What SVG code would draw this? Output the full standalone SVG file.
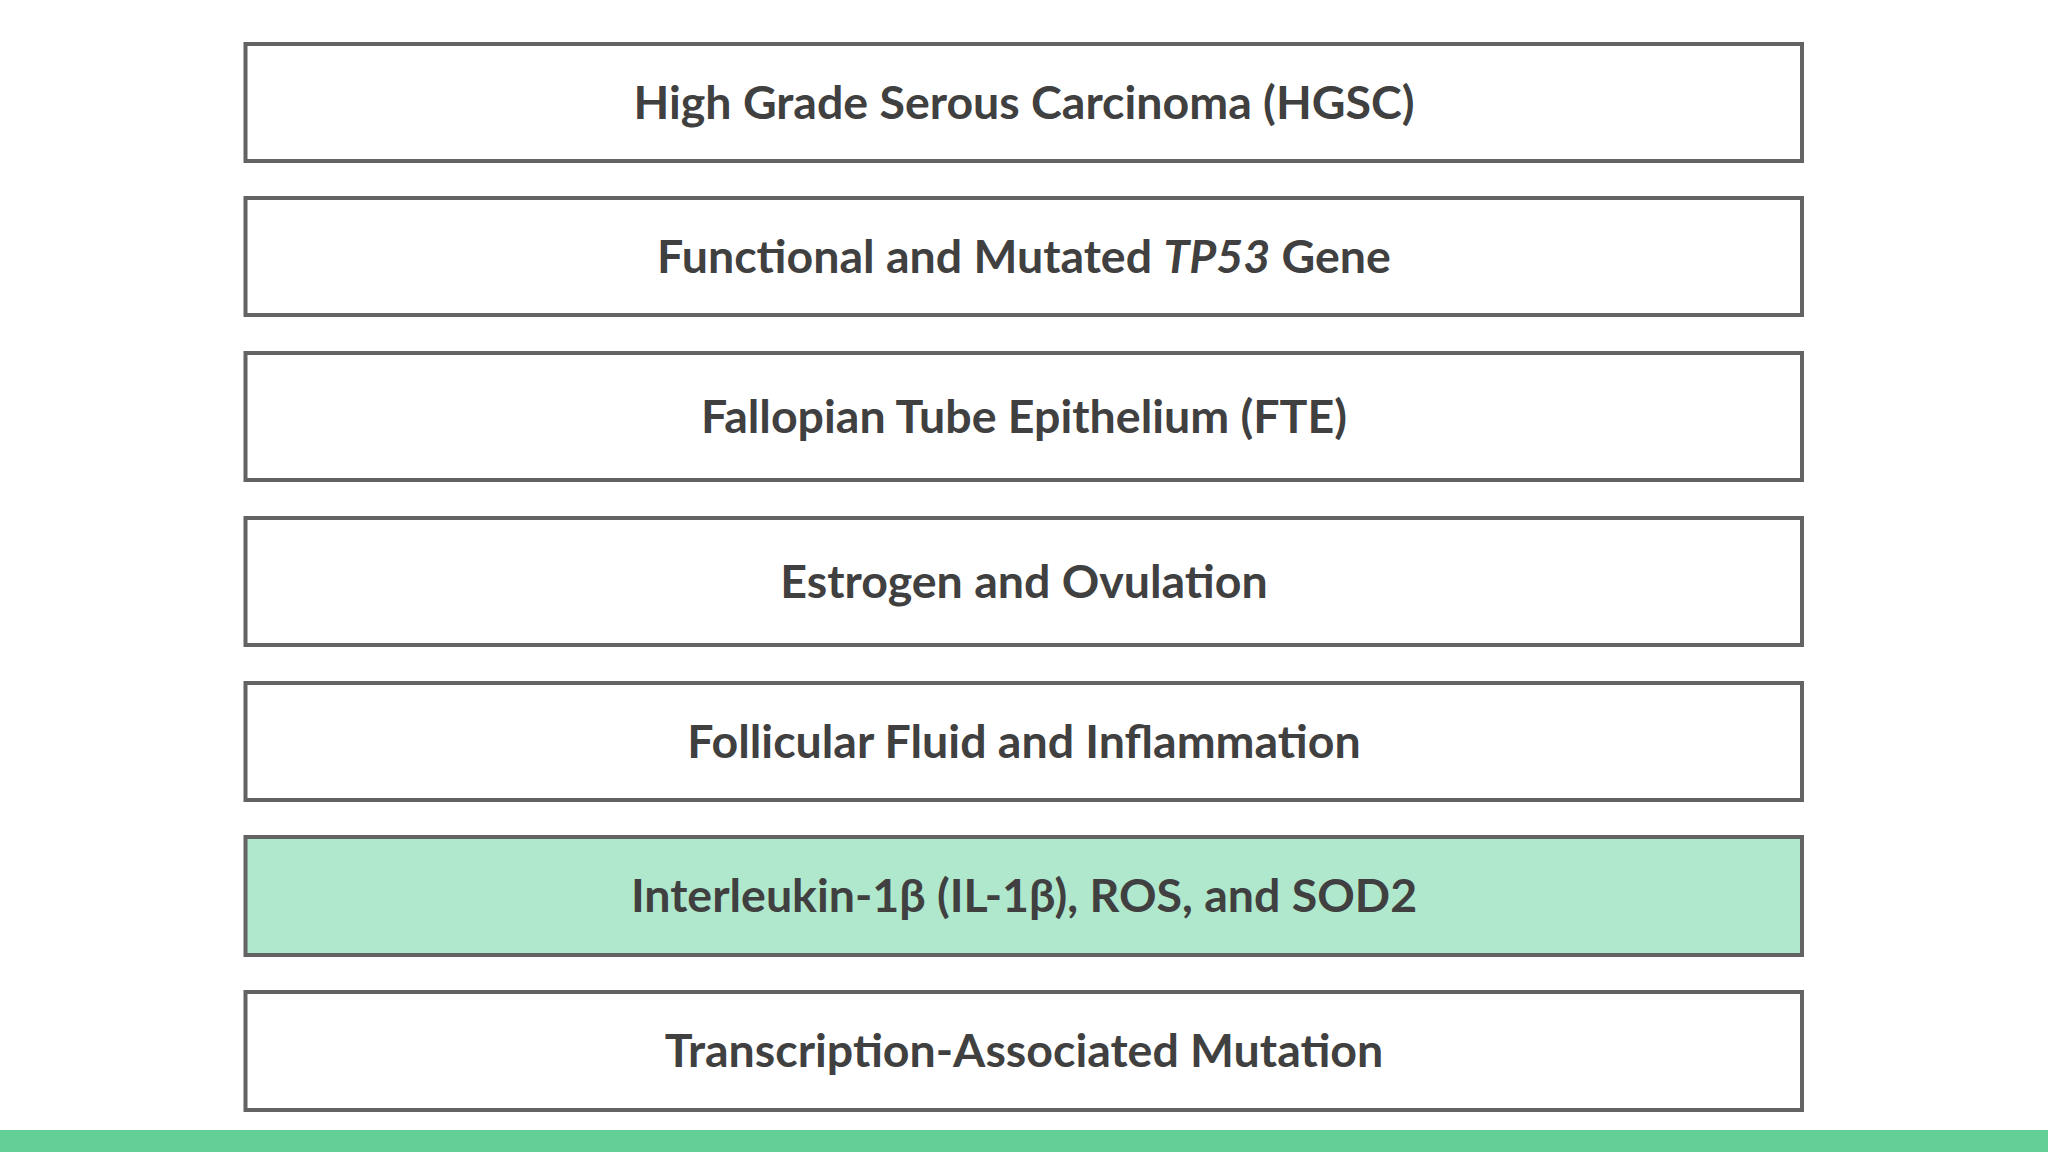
<svg xmlns="http://www.w3.org/2000/svg" width="2048" height="1152" viewBox="0 0 2048 1152">
<style>
.box{fill:#ffffff;stroke:#636363;stroke-width:4}
.hl{fill:#b0e8cd}
.lbl{font-family:Lato,"Open Sans",sans-serif;font-weight:700;font-size:46.5px;fill:#404040;text-anchor:middle}
</style>
<rect width="2048" height="1152" fill="#ffffff"/>
<g id="n1"><rect class="box" x="245.5" y="44" width="1556.5" height="117"/><text class="lbl" x="1024" y="119">High Grade Serous Carcinoma (HGSC)</text></g>
<g id="n2"><rect class="box" x="245.5" y="198" width="1556.5" height="117"/><text class="lbl" x="1024" y="273">Functional and Mutated <tspan font-style="italic">TP53</tspan> Gene</text></g>
<g id="n3"><rect class="box" x="245.5" y="353" width="1556.5" height="127"/><text class="lbl" x="1024" y="433">Fallopian Tube Epithelium (FTE)</text></g>
<g id="n4"><rect class="box" x="245.5" y="518" width="1556.5" height="127"/><text class="lbl" x="1024" y="598">Estrogen and Ovulation</text></g>
<g id="n5"><rect class="box" x="245.5" y="683" width="1556.5" height="117"/><text class="lbl" x="1024" y="758">Follicular Fluid and Inflammation</text></g>
<g id="n6"><rect class="box hl" x="245.5" y="837" width="1556.5" height="118"/><text class="lbl" x="1024" y="912">Interleukin-1β (IL-1β), ROS, and SOD2</text></g>
<g id="n7"><rect class="box" x="245.5" y="992" width="1556.5" height="118"/><text class="lbl" x="1024" y="1067">Transcription-Associated Mutation</text></g>
<g id="connectors"></g>
<rect x="0" y="1130" width="2048" height="22" fill="#62d096"/>
</svg>
